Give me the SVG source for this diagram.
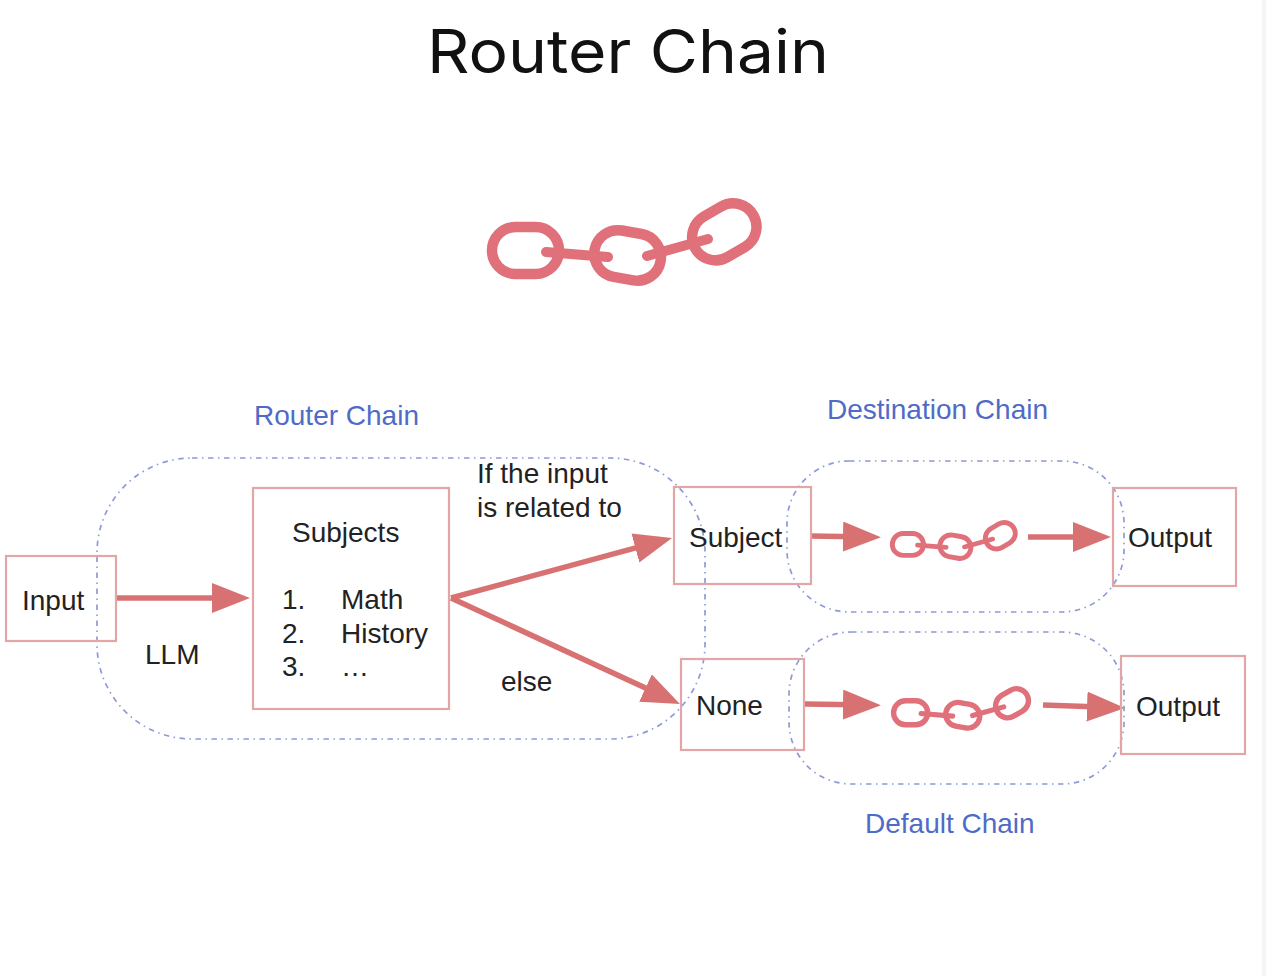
<svg xmlns="http://www.w3.org/2000/svg" width="1266" height="976" viewBox="0 0 1266 976">
<style>
text{font-family:"Liberation Sans",Arial,sans-serif;font-size:28px;fill:#222}
.title{font-family:Inter,"Liberation Sans",sans-serif;font-size:60px;fill:#111}
.blue{fill:#4f6bc7}
.box{fill:none;stroke:#e2a6a6;stroke-width:2.2}
.group{fill:none;stroke:#8d9bd8;stroke-width:1.7;stroke-dasharray:5.5 4.5 1.5 4.5}
.arrow{fill:none;stroke:#d87272;stroke-width:5.5;marker-end:url(#head)}
.link{fill:none;stroke:#e0707a;stroke-width:10.5}
.bar{fill:none;stroke:#e0707a;stroke-width:10;stroke-linecap:round}
</style>
<defs>
<marker id="head" markerUnits="userSpaceOnUse" markerWidth="40" markerHeight="32" refX="28" refY="15" orient="auto"><path d="M0 0L38 15L0 30Z" fill="#d87272"/></marker>
<g id="chain">
<rect class="link" x="492" y="227" width="67" height="47" rx="23.5"/>
<rect class="link" x="594" y="232" width="67" height="47" rx="23.5" transform="rotate(10 628 256)"/>
<rect class="link" x="691" y="208" width="67" height="47" rx="23.5" transform="rotate(-30 725 232)"/>
<path class="bar" d="M546 252L608 257"/>
<path class="bar" d="M647 256L708 239"/>
</g>
</defs>
<rect width="1266" height="976" fill="#fff"/>
<rect x="1262" width="4" height="976" fill="#f5f5f5"/>
<text class="title" x="427" y="72.5" textLength="402" lengthAdjust="spacingAndGlyphs">Router Chain</text>
<use id="chain-main" href="#chain"/>
<g id="connectors">
<path class="arrow" d="M116 598H240"/>
<path class="arrow" d="M451 598L662.4 540.6"/>
<path class="arrow" d="M451 598L670.9 699.8"/>
<path class="arrow" d="M811 536L871 537"/>
<path class="arrow" d="M1028 537H1101"/>
<path class="arrow" d="M805 704L871 705"/>
<path class="arrow" d="M1043 705L1115 707.6"/>
</g>
<g id="router-group"><rect class="group" x="97" y="458" width="608" height="281" rx="95"/><text class="blue" x="254" y="425">Router Chain</text></g>
<g id="destination-group"><rect class="group" x="787" y="461" width="337" height="151" rx="62"/><text class="blue" x="827" y="419">Destination Chain</text><use href="#chain" transform="translate(890 520) scale(.465) translate(-487 -198)"/></g>
<g id="default-group"><rect class="group" x="789" y="632" width="335" height="152" rx="62"/><text class="blue" x="865" y="833">Default Chain</text><use href="#chain" transform="translate(891 686) scale(.51) translate(-487 -198)"/></g>
<g id="input"><rect class="box" x="6" y="556" width="110" height="85"/><text x="22" y="610">Input</text></g>
<g id="llm"><text x="145" y="664">LLM</text></g>
<g id="subjects"><rect class="box" x="253" y="488" width="196" height="221"/>
<text x="292" y="542">Subjects</text>
<text x="282" y="609">1.</text><text x="341" y="609">Math</text>
<text x="282" y="643">2.</text><text x="341" y="643">History</text>
<text x="282" y="676">3.</text><text x="341" y="676">…</text></g>
<g id="condition"><text x="477" y="483">If the input</text><text x="477" y="517">is related to</text></g>
<g id="else"><text x="501" y="691">else</text></g>
<g id="subject"><rect class="box" x="674" y="487" width="137" height="97"/><text x="689" y="547">Subject</text></g>
<g id="none"><rect class="box" x="681" y="659" width="123" height="91"/><text x="696" y="715">None</text></g>
<g id="output-1"><rect class="box" x="1113" y="488" width="123" height="98"/><text x="1128" y="547">Output</text></g>
<g id="output-2"><rect class="box" x="1121" y="656" width="124" height="98"/><text x="1136" y="716">Output</text></g>
</svg>
